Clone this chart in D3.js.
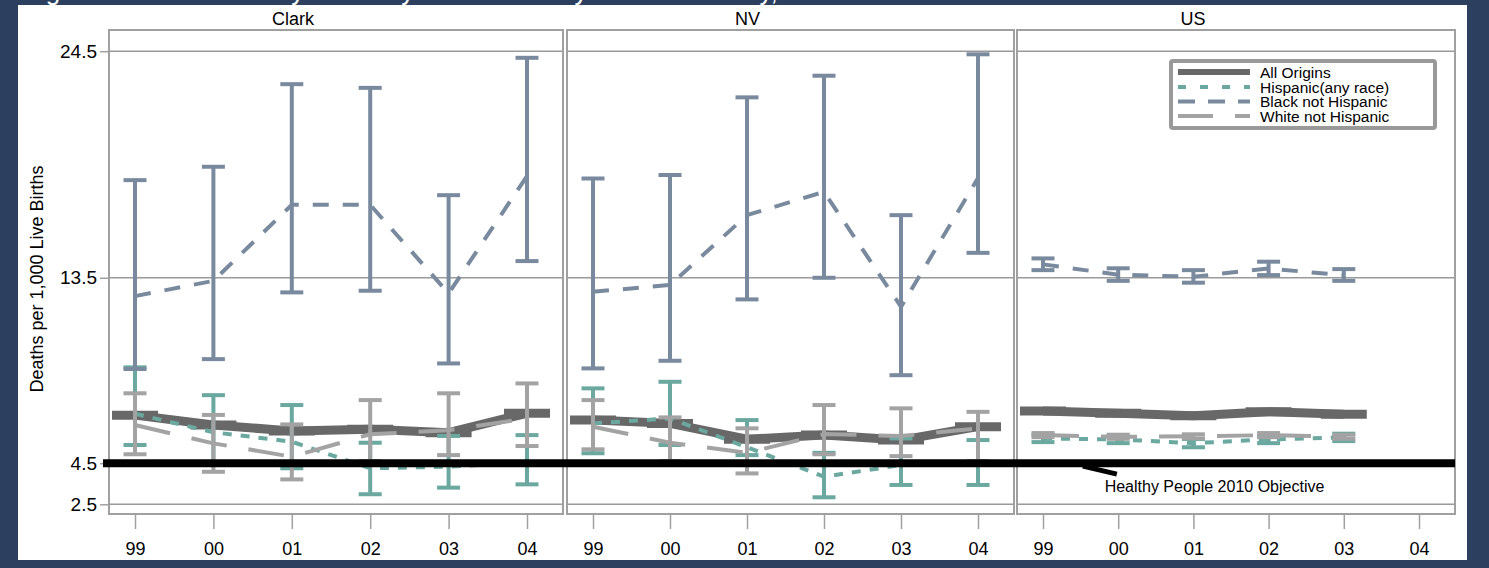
<!DOCTYPE html>
<html>
<head>
<meta charset="utf-8">
<script src="https://cdn.jsdelivr.net/npm/d3@7"></script>
<style>
  html, body { margin: 0; padding: 0; background: #2c3f5f; }
  svg { display: block; }
  text { font-family: "Liberation Sans", Arial, sans-serif; }
</style>
</head>
<body>
<svg id="chart" width="1489" height="568"></svg>
<script>
// ---- data -------------------------------------------------------------
const years = ["99", "00", "01", "02", "03", "04"];
const panelNames = ["Clark", "NV", "US"];
const yTickValues = [2.5, 4.5, 13.5, 24.5];
const gridValues = [2.5, 13.5, 24.5];
const objectiveRate = 4.5;
const objectiveLabel = "Healthy People 2010 Objective";
const seriesNames = ["All Origins", "Hispanic(any race)", "Black not Hispanic", "White not Hispanic"];
const yAxisTitle = "Deaths per 1,000 Live Births";
const figureTitle = "Figure 1. Infant Mortality Rates by Race/Ethnicity in Clark County, Nevada and US";

// Clark County
const clarkAll     = [6.83, 6.35, 6.06, 6.14, 5.98, 6.92];
const clarkHisp    = [6.90, 6.00, 5.54, 4.25, 4.33, 4.55];
const clarkHispLo  = [5.38, 4.55, 4.25, 2.99, 3.31, 3.47];
const clarkHispHi  = [9.15, 7.80, 7.32, 5.49, 5.82, 5.86];
const clarkBlack   = [12.61, 13.35, 17.04, 17.04, 12.74, 18.44];
const clarkBlackLo = [9.07, 9.55, 12.79, 12.87, 9.34, 14.31];
const clarkBlackHi = [18.24, 18.89, 22.90, 22.72, 17.51, 24.18];
const clarkWhite   = [6.35, 5.46, 4.81, 5.90, 6.10, 6.67];
const clarkWhiteLo = [4.93, 4.08, 3.71, 4.60, 4.89, 5.33];
const clarkWhiteHi = [7.89, 6.84, 6.38, 7.56, 7.89, 8.37];

// Nevada
const nvAll     = [6.59, 6.43, 5.66, 5.86, 5.62, 6.27];
const nvHisp    = [6.43, 6.67, 5.27, 3.84, 4.41, 4.50];
const nvHispLo  = [4.98, 5.38, 4.89, 2.84, 3.44, 3.44];
const nvHispHi  = [8.13, 8.45, 6.59, 5.00, 5.70, 5.62];
const nvBlack   = [12.82, 13.15, 16.54, 17.67, 12.09, 18.34];
const nvBlackLo = [9.10, 9.47, 12.45, 13.50, 8.77, 14.71];
const nvBlackHi = [18.32, 18.49, 22.26, 23.31, 16.54, 24.35];
const nvWhite   = [6.27, 5.49, 5.00, 5.91, 5.82, 6.19];
const nvWhiteLo = [5.17, 4.60, 4.00, 4.93, 4.84, 4.60];
const nvWhiteHi = [7.56, 6.72, 6.19, 7.32, 7.16, 6.99];

// United States (1999-2003)
const usAll     = [7.03, 6.92, 6.80, 7.00, 6.87];
const usHisp    = [5.70, 5.65, 5.47, 5.65, 5.75];
const usHispLo  = [5.52, 5.47, 5.27, 5.47, 5.57];
const usHispHi  = [5.88, 5.83, 5.67, 5.83, 5.93];
const usBlack   = [14.15, 13.65, 13.55, 13.95, 13.62];
const usBlackLo = [13.87, 13.35, 13.26, 13.63, 13.35];
const usBlackHi = [14.44, 13.96, 13.87, 14.28, 13.92];
const usWhite   = [5.86, 5.78, 5.80, 5.86, 5.78];
const usWhiteLo = [5.76, 5.68, 5.70, 5.76, 5.68];
const usWhiteHi = [5.96, 5.88, 5.90, 5.96, 5.88];

// ---- styles -----------------------------------------------------------
const seriesStyles = [
  { color: "#686868", width: 9, dash: null,    tick: 23, legendWidth: 6 },
  { color: "#6aa8a0", width: 4, dash: "9,9",   cap: 11.5, legendDash: "8,14" },
  { color: "#7a8a9e", width: 4, dash: "16,14", cap: 11.5, legendDash: "17,13" },
  { color: "#a3a3a3", width: 4, dash: "36,22", cap: 11.5, legendDash: "35,22" }
];

const panelData = [
  [[clarkAll], [clarkHisp, clarkHispLo, clarkHispHi], [clarkBlack, clarkBlackLo, clarkBlackHi], [clarkWhite, clarkWhiteLo, clarkWhiteHi]],
  [[nvAll], [nvHisp, nvHispLo, nvHispHi], [nvBlack, nvBlackLo, nvBlackHi], [nvWhite, nvWhiteLo, nvWhiteHi]],
  [[usAll], [usHisp, usHispLo, usHispHi], [usBlack, usBlackLo, usBlackHi], [usWhite, usWhiteLo, usWhiteHi]]
];

// ---- layout -----------------------------------------------------------
const W = 1489, H = 568;
const plotTop = 30, plotBottom = 514;
const panelBounds = [[109, 563], [567, 1014], [1017, 1455]];
const frameColor = "#a0a0a0";
const gridColor = "#9a9a9a";

const svg = d3.select("#chart");
svg.append("rect").attr("width", W).attr("height", H).attr("fill", "#2c3f5f");

// page title (runs off the top edge)
svg.append("text")
  .attr("x", 24).attr("y", 0)
  .attr("fill", "#ffffff")
  .attr("font-size", 26)
  .text(figureTitle);

// white page
svg.append("rect").attr("x", 18).attr("y", 5).attr("width", 1449).attr("height", 555).attr("fill", "#ffffff");

const y = d3.scaleLinear().domain([2.03, 25.53]).range([plotBottom, plotTop]);

const xScales = panelBounds.map(([l, r]) =>
  d3.scaleLinear().domain([0, years.length - 1]).range([l + 26, r - 36]));

panelBounds.forEach(([l, r], p) => {
  const g = svg.append("g");
  const x = xScales[p];

  // grid lines
  g.selectAll(null).data(gridValues).join("line")
    .attr("x1", l).attr("x2", r)
    .attr("y1", d => y(d)).attr("y2", d => y(d))
    .attr("stroke", gridColor).attr("stroke-width", 1.5);

  // frame
  g.append("rect")
    .attr("x", l).attr("y", plotTop)
    .attr("width", r - l).attr("height", plotBottom - plotTop)
    .attr("fill", "none").attr("stroke", frameColor).attr("stroke-width", 2);

  // x axis
  const xAxis = d3.axisBottom(x)
    .tickValues(d3.range(years.length))
    .tickFormat(i => years[i])
    .tickSize(14).tickPadding(13);
  const ax = g.append("g").attr("transform", `translate(0,${plotBottom + 1})`).call(xAxis);
  ax.select(".domain").remove();
  ax.selectAll(".tick line").attr("stroke", frameColor).attr("stroke-width", 1.5);
  ax.selectAll(".tick text").attr("font-size", 18).attr("fill", "#000")
    .attr("font-family", "Liberation Sans, Arial, sans-serif");

  // panel title
  g.append("text")
    .attr("x", (l + r) / 2 - 43).attr("y", 25)
    .attr("text-anchor", "middle")
    .attr("font-size", 18).attr("fill", "#000")
    .text(panelNames[p]);

  // series
  panelData[p].forEach((arrs, s) => {
    const st = seriesStyles[s];
    const [mean, lo, hi] = arrs;
    const pts = mean.map((m, i) => ({ i, m, lo: lo ? lo[i] : null, hi: hi ? hi[i] : null }));
    const sg = g.append("g");

    if (lo) {
      sg.selectAll(null).data(pts).join("line")
        .attr("x1", d => x(d.i)).attr("x2", d => x(d.i))
        .attr("y1", d => y(d.lo)).attr("y2", d => y(d.hi))
        .attr("stroke", st.color).attr("stroke-width", st.width);
      ["lo", "hi"].forEach(k => {
        sg.selectAll(null).data(pts).join("line")
          .attr("x1", d => x(d.i) - st.cap).attr("x2", d => x(d.i) + st.cap)
          .attr("y1", d => y(d[k])).attr("y2", d => y(d[k]))
          .attr("stroke", st.color).attr("stroke-width", st.width);
      });
    }
    if (st.tick) {
      sg.selectAll(null).data(pts).join("line")
        .attr("x1", d => x(d.i) - st.tick).attr("x2", d => x(d.i) + st.tick)
        .attr("y1", d => y(d.m)).attr("y2", d => y(d.m))
        .attr("stroke", st.color).attr("stroke-width", st.width);
    }
    sg.append("path")
      .datum(pts)
      .attr("d", d3.line().x(d => x(d.i)).y(d => y(d.m)))
      .attr("fill", "none")
      .attr("stroke", st.color).attr("stroke-width", st.width)
      .attr("stroke-dasharray", st.dash);
  });
});

// y axis on the first panel
const yAxis = d3.axisLeft(y).tickValues(yTickValues).tickFormat(d3.format(".1f")).tickSize(9).tickPadding(3);
const yAx = svg.append("g").attr("transform", `translate(${panelBounds[0][0]},0)`).call(yAxis);
yAx.select(".domain").remove();
yAx.selectAll(".tick line").attr("stroke", frameColor).attr("stroke-width", 1.5);
yAx.selectAll(".tick text").attr("font-size", 19).attr("fill", "#000")
  .attr("font-family", "Liberation Sans, Arial, sans-serif");

svg.append("text")
  .attr("transform", `translate(37,279) rotate(-90)`)
  .attr("text-anchor", "middle").attr("dominant-baseline", "central")
  .attr("font-size", 18).attr("fill", "#000")
  .text(yAxisTitle);

// objective reference line
const yObj = y(objectiveRate);
svg.append("line")
  .attr("x1", panelBounds[0][0] - 6).attr("x2", panelBounds[2][1])
  .attr("y1", yObj).attr("y2", yObj)
  .attr("stroke", "#000").attr("stroke-width", 8);

const xUS = xScales[2];
svg.append("line")
  .attr("x1", xUS(0.53)).attr("y1", yObj + 3)
  .attr("x2", xUS(0.53) + 34).attr("y2", yObj + 11)
  .attr("stroke", "#000").attr("stroke-width", 5);
svg.append("text")
  .attr("x", xUS(0.82)).attr("y", yObj + 29)
  .attr("font-size", 16).attr("fill", "#000")
  .text(objectiveLabel);

// legend
const lg = svg.append("g");
lg.append("rect")
  .attr("x", 1171).attr("y", 61).attr("width", 264).attr("height", 67).attr("rx", 2)
  .attr("fill", "#fff").attr("stroke", "#999").attr("stroke-width", 4);
const rowY = [72, 87, 101.5, 116];
seriesNames.forEach((name, s) => {
  const st = seriesStyles[s];
  lg.append("line")
    .attr("x1", 1178).attr("x2", 1250)
    .attr("y1", rowY[s]).attr("y2", rowY[s])
    .attr("stroke", st.color)
    .attr("stroke-width", st.legendWidth || st.width)
    .attr("stroke-dasharray", st.legendDash || null);
  lg.append("text")
    .attr("x", 1260).attr("y", rowY[s] + 5.5)
    .attr("font-size", 15.5).attr("fill", "#000")
    .text(name);
});
</script>
</body>
</html>
